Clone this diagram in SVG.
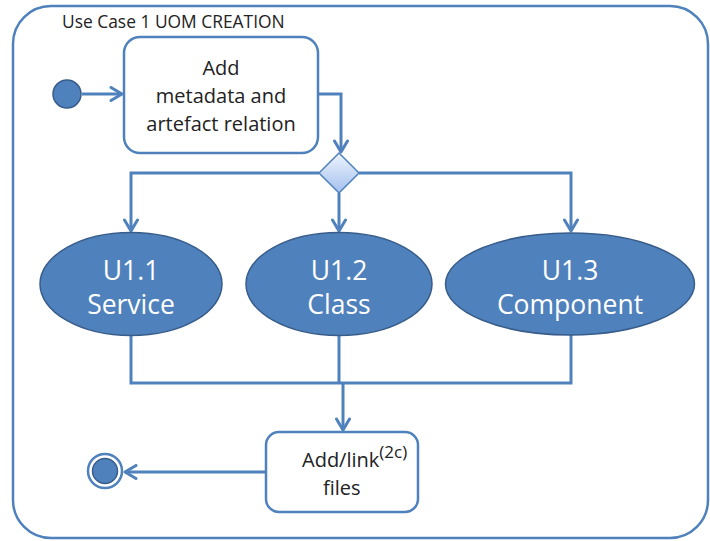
<svg xmlns="http://www.w3.org/2000/svg" width="710" height="541" viewBox="0 0 710 541">
<defs>
<marker id="arr" markerUnits="userSpaceOnUse" markerWidth="16" markerHeight="16" viewBox="0 0 16 16" refX="14" refY="8" orient="auto">
<path d="M3,1.5 L14,8 L3,14.5" fill="none" stroke="#4f81bd" stroke-width="3" stroke-linecap="round" stroke-linejoin="round"/>
</marker>
<linearGradient id="dg" x1="0" y1="0" x2="0" y2="1">
<stop offset="0" stop-color="#eef4fd"/>
<stop offset="1" stop-color="#a3c0ee"/>
</linearGradient>
<style>
.t{font-family:"Open Sans","Liberation Sans",sans-serif;fill:#222}
.w{font-family:"Open Sans","Liberation Sans",sans-serif;fill:#fff;font-size:26.5px;text-anchor:middle}
.c{fill:none;stroke:#4f81bd;stroke-width:3}
.box{fill:#fff;stroke:#4f81bd;stroke-width:2.5}
.ell{fill:#4f81bd;stroke:#385d8a;stroke-width:1.5}
</style>
</defs>
<g id="frame">
<rect x="13" y="6" width="695" height="532" rx="38" fill="#fff" stroke="#4f81bd" stroke-width="2.5"/>
<text class="t" x="62" y="28" font-size="17.4">Use Case 1 UOM CREATION</text>
</g>
<g id="connectors">
<path class="c" d="M82,94 H122" marker-end="url(#arr)"/>
<path class="c" d="M318,94 H341 V152" marker-end="url(#arr)"/>
<path class="c" d="M319,173 H131 V231" marker-end="url(#arr)"/>
<path class="c" d="M359,173 H571 V231" marker-end="url(#arr)"/>
<path class="c" d="M339,193 V231" marker-end="url(#arr)"/>
<path class="c" d="M131,336 V383 H571 V335"/>
<path class="c" d="M339,336 V383"/>
<path class="c" d="M343,383 V430" marker-end="url(#arr)"/>
<path class="c" d="M266,472 H125" marker-end="url(#arr)"/>
</g>
<g id="start">
<circle cx="67" cy="94" r="14" fill="#4f81bd" stroke="#385d8a" stroke-width="1.5"/>
</g>
<g id="add-metadata">
<rect class="box" x="124" y="37" width="194" height="116" rx="16"/>
<text class="t" font-size="20" text-anchor="middle"><tspan x="221" y="75">Add</tspan><tspan x="221" y="103">metadata and</tspan><tspan x="221" y="131">artefact relation</tspan></text>
</g>
<g id="decision">
<path d="M339,153 L359,173 L339,193 L319,173 Z" fill="url(#dg)" stroke="#4f81bd" stroke-width="1.5"/>
</g>
<g id="u11">
<ellipse class="ell" cx="131" cy="284" rx="91" ry="51.5"/>
<text class="w"><tspan x="131" y="280">U1.1</tspan><tspan x="131" y="314">Service</tspan></text>
</g>
<g id="u12">
<ellipse class="ell" cx="339" cy="284" rx="93" ry="51.5"/>
<text class="w"><tspan x="339" y="280">U1.2</tspan><tspan x="339" y="314">Class</tspan></text>
</g>
<g id="u13">
<ellipse class="ell" cx="570" cy="284" rx="124.5" ry="51"/>
<text class="w"><tspan x="570" y="280">U1.3</tspan><tspan x="570" y="314">Component</tspan></text>
</g>
<g id="add-link">
<rect class="box" x="266" y="432" width="152" height="80" rx="13"/>
<text class="t" font-size="20" x="302" y="467">Add/link<tspan font-size="17" dy="-9">(2c)</tspan></text>
<text class="t" font-size="20" x="323" y="495">files</text>
</g>
<g id="end">
<circle cx="105" cy="471" r="17" fill="#fff" stroke="#4f81bd" stroke-width="2.5"/>
<circle cx="105" cy="471" r="12.5" fill="#4f81bd" stroke="#385d8a" stroke-width="1.5"/>
</g>
</svg>
